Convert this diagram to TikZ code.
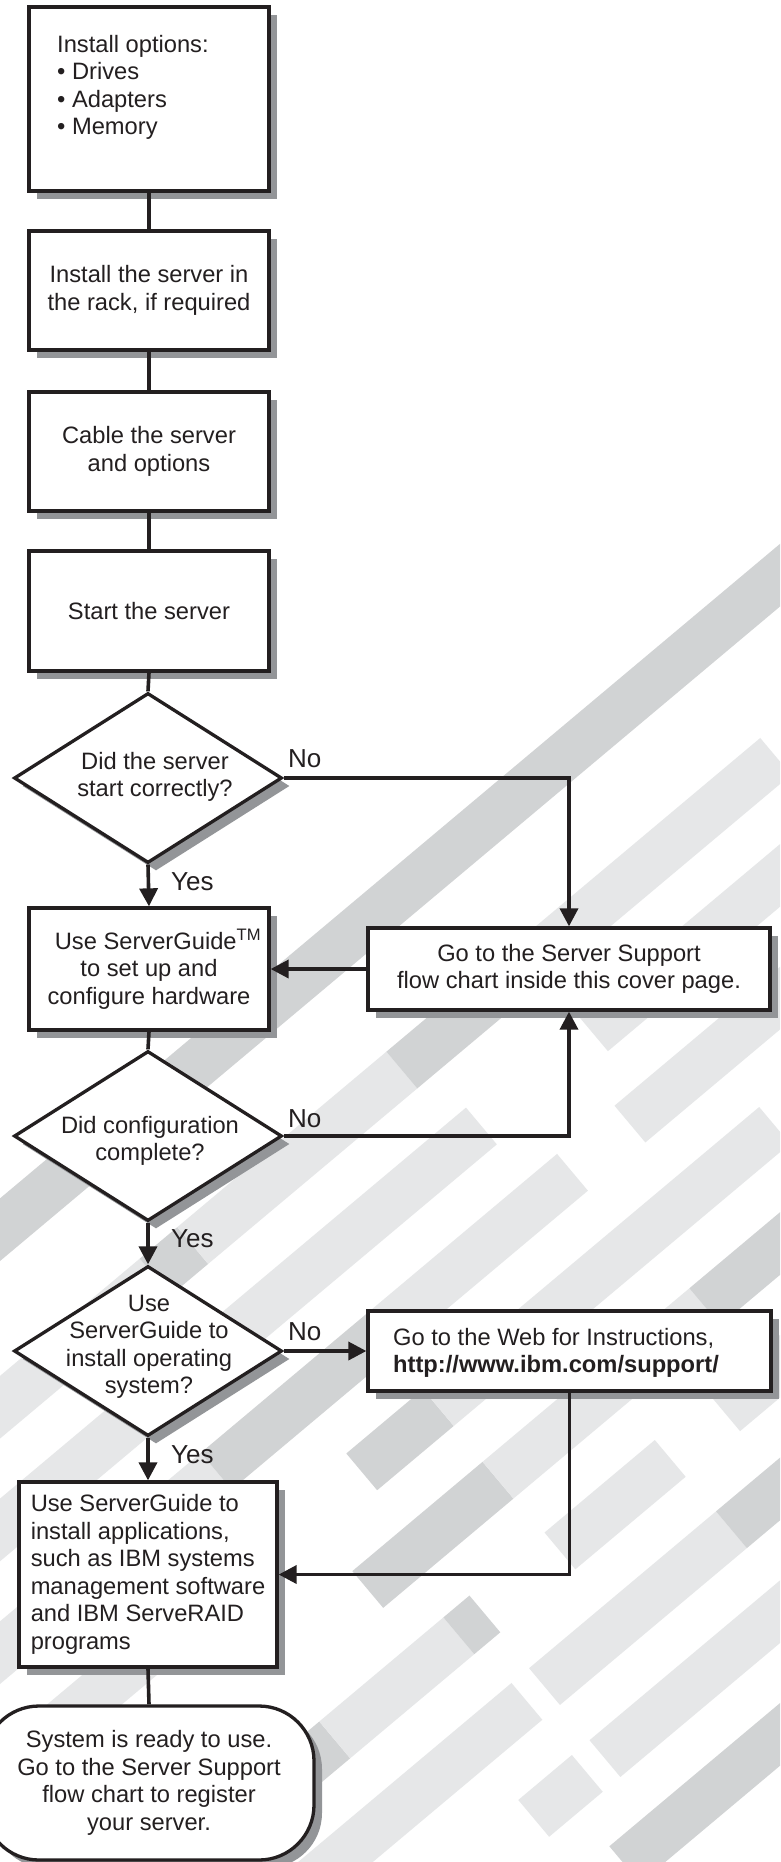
\documentclass[tikz,border=0pt]{standalone}
\usepackage{fontspec}
\setmainfont{Liberation Sans}
\usetikzlibrary{arrows.meta,shapes.geometric,shadows}
\definecolor{ink}{HTML}{231F20}
\definecolor{shade}{HTML}{939598}
\definecolor{sdark}{HTML}{D1D3D4}
\definecolor{slight}{HTML}{E6E7E8}
\newcommand{\flowfont}{\fontsize{23.7pt}{27.5pt}\selectfont}
\newcommand{\lblfont}{\fontsize{26pt}{30pt}\selectfont}
\newcommand{\band}[4]{\fill[#4] (#2,#1-24) rectangle (#3,#1+24);}
\begin{document}
\begin{tikzpicture}[x=1pt,y=1pt,
  every node/.style={font=\flowfont, text=ink},
  shad/.style={drop shadow={shadow xshift=8pt,shadow yshift=-8pt,opacity=1,fill=shade}},
  box/.style={rectangle, draw=ink, line width=3.3pt, fill=white, inner sep=0pt, align=center, shad},
  dia/.style={diamond, draw=ink, line width=3.3pt, fill=white, inner sep=0pt, minimum width=268pt, minimum height=170pt, shad},
  term/.style={rectangle, rounded corners=55pt, draw=ink, line width=3.3pt, fill=white, inner sep=0pt, align=center, minimum width=330pt, minimum height=154pt, shad},
  conn/.style={draw=ink, line width=3.6pt},
  arr/.style={conn, -{Triangle[length=18pt,width=18pt]}},
  lbl/.style={font=\lblfont, anchor=base west, inner sep=0pt},
  txt/.style={align=center, inner sep=0pt}]
\useasboundingbox (0,0) rectangle (780,-1862);
\fill[white] (0,0) rectangle (780,-1862);
% background stripes
\begin{scope}
\clip (0,0) rectangle (780,-1862);
\begin{scope}[rotate=40]
\band{-942}{-1400}{800}{sdark}
% k0
\band{-1078}{-1400}{-702}{slight}
\band{-1078}{-702}{-653}{sdark}
\band{-1078}{-653}{-380}{slight}
\band{-1078}{-380}{-190}{sdark}
\band{-1078}{-190}{108}{slight}
% k1
\band{-1172}{-1400}{-355}{slight}
\band{-1172}{-210}{800}{slight}
% k2
\band{-1266}{-1400}{-780}{slight}
\band{-1266}{-780}{-560}{sdark}
\band{-1266}{-560}{-315}{slight}
\band{-1266}{-240}{800}{slight}
% k3
\band{-1360}{-1400}{-800}{slight}
\band{-1360}{-669}{-569}{sdark}
\band{-1360}{-569}{-130}{slight}
% k4
\band{-1454}{-740}{-570}{sdark}
\band{-1454}{-570}{-300}{slight}
\band{-1454}{-300}{800}{sdark}
% k5
\band{-1548}{-1400}{-862}{sdark}
\band{-1548}{-862}{-700}{slight}
\band{-1548}{-700}{-666}{sdark}
\band{-1548}{-568}{-424}{slight}
\band{-1548}{-353}{800}{slight}
% k6
\band{-1642}{-1000}{-690}{slight}
\band{-1642}{-667}{-423}{slight}
\band{-1642}{-423}{800}{sdark}
% k7
\band{-1736}{-760}{-690}{slight}
\band{-1736}{-667}{800}{slight}
% k8
\band{-1830}{-720}{800}{sdark}
\end{scope}
\end{scope}

% nodes
\node[box, minimum width=240pt, minimum height=184pt] (b1) at (149,-99) {};
\node[anchor=north west, align=left, inner sep=0pt] (b1t) at (57,-35) {Install options:\\• Drives\\• Adapters\\• Memory};
\node[box, minimum width=240pt, minimum height=119pt] (b2) at (149,-290.5) {Install the server in\\the rack, if required};
\node[box, minimum width=240pt, minimum height=119pt] (b3) at (149,-451.5) {Cable the server\\and options};
\node[box, minimum width=240pt, minimum height=120pt] (b4) at (149,-611) {Start the server};
\node[dia] (d1) at (148,-778) {};
\node[txt] (d1t) at (155,-777) {Did the server\\start correctly?};
\node[box, minimum width=240pt, minimum height=122pt] (b6) at (149,-969) {\hspace*{18pt}Use ServerGuide\textsuperscript{TM}\\to set up and\\configure hardware};
\node[box, minimum width=402pt, minimum height=82pt] (b5) at (569,-969) {Go to the Server Support\\flow chart inside this cover page.};
\node[dia] (d2) at (148,-1136) {};
\node[txt] (d2t) at (150,-1141) {Did configuration\\complete?};
\node[dia] (d3) at (148,-1351) {};
\node[txt] (d3t) at (149,-1347) {Use\\ServerGuide to\\install operating\\system?};
\node[box, minimum width=403pt, minimum height=80pt] (b7) at (569.5,-1351) {};
\node[anchor=west, align=left, inner sep=0pt] (b7t) at (393,-1353) {Go to the Web for Instructions,\\\textbf{http://www.ibm.com/support/}};
\node[box, align=left, minimum width=258pt, minimum height=185pt] (b8) at (148,-1574.5) {Use ServerGuide to\\install applications,\\such as IBM systems\\management software\\and IBM ServeRAID\\programs};
\node[term] (term) at (149,-1783) {System is ready to use.\\Go to the Server Support\\flow chart to register\\your server.};

% labels
\node[lbl] (no1) at (288,-767) {No};
\node[lbl] (no2) at (288,-1127) {No};
\node[lbl] (no3) at (288,-1340) {No};
\node[lbl] (yes1) at (171,-890) {Yes};
\node[lbl] (yes2) at (171,-1247) {Yes};
\node[lbl] (yes3) at (171,-1463) {Yes};

% connectors
\draw[conn] (b1.south) -- (b2.north);
\draw[conn] (b2.south) -- (b3.north);
\draw[conn] (b3.south) -- (b4.north);
\draw[conn] (b4.south) -- (d1.north);
\draw[arr] (d1.south) -- (b6.north);
\draw[arr] (d1.east) -| (b5.north);
\draw[arr] (b5.west) -- (b6.east);
\draw[conn] (b6.south) -- (d2.north);
\draw[arr] (d2.east) -| (b5.south);
\draw[arr] (d2.south) -- (d3.north);
\draw[arr] (d3.east) -- (b7.west);
\draw[arr] (d3.south) -- (b8.north);
\draw[arr] (b7.south) |- (b8.east);
\draw[conn] (b8.south) -- (term.north);
\end{tikzpicture}
\end{document}
